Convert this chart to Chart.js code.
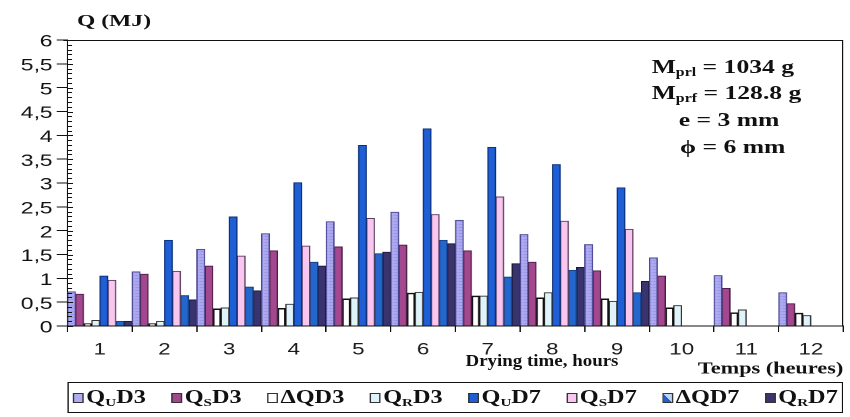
<!DOCTYPE html>
<html>
<head>
<meta charset="utf-8">
<script src="https://cdn.jsdelivr.net/npm/chart.js@4.4.1/dist/chart.umd.min.js"></script>
<style>
  html, body { margin: 0; padding: 0; background: #fff; overflow: hidden; }
  /* the figure is laid out narrow, then widened like the printed plate */
  #wrap { position: absolute; left: 0; top: 0; width: 630px; height: 417px;
          transform: scaleX(1.349206); transform-origin: 0 0; }
  #chart { position: absolute; left: 0; top: 0; width: 630px; height: 417px; }
  .txt { position: absolute; font-family: "Liberation Serif", "DejaVu Serif", serif; font-weight: bold;
         color: #111; line-height: 1; white-space: nowrap; }
  .txt sub, #legend sub { font-size: 0.62em; vertical-align: -0.25em; line-height: 0; }
  #legend { position: absolute; left: 50px; top: 382px; width: 575px; height: 31px; box-sizing: border-box;
            border: 1px solid #111; display: flex; justify-content: space-between; align-items: center;
            padding: 0 3px; font-family: "Liberation Serif", serif; font-weight: bold; font-size: 18px; color: #111; }
  .item { display: flex; align-items: center; white-space: nowrap; }
  .swatch { width: 8px; height: 10px; border: 1px solid #333; box-sizing: border-box; margin-right: 2px; }
</style>
</head>
<body>
<div id="wrap">
  <canvas id="chart" width="630" height="417"></canvas>
  <div class="txt" style="left:57px; top:12px; font-size:17.5px;">Q (MJ)</div>
  <div class="txt" style="left:483px; top:57px; font-size:19px;">M<sub>prl</sub> = 1034 g</div>
  <div class="txt" style="left:483px; top:83px; font-size:19px;">M<sub>prf</sub> = 128.8 g</div>
  <div class="txt" style="left:503px; top:110px; font-size:19px;">e = 3 mm</div>
  <div class="txt" style="left:504px; top:137px; font-size:19px;">ϕ = 6 mm</div>
  <div class="txt" style="left:345px; top:353px; font-size:16.5px; transform:scaleX(0.85); transform-origin:0 0;">Drying time, hours</div>
  <div id="legend"></div>
</div>
<script>
// drying time (hours)
const hours = ['1', '2', '3', '4', '5', '6', '7', '8', '9', '10', '11', '12'];

// energies in MJ, D3 = 3 mm slices, D7 = second run
const quD3  = [0.72, 1.14, 1.61, 1.94, 2.19, 2.39, 2.22, 1.92, 1.71, 1.43, 1.06, 0.70];
const qsD3  = [0.67, 1.09, 1.26, 1.58, 1.66, 1.70, 1.58, 1.34, 1.16, 1.05, 0.79, 0.47];
const dqD3  = [0.05, 0.05, 0.36, 0.37, 0.57, 0.69, 0.63, 0.59, 0.57, 0.38, 0.28, 0.27];
const qrD3  = [0.12, 0.10, 0.38, 0.46, 0.59, 0.71, 0.63, 0.70, 0.52, 0.43, 0.34, 0.22];
const quD7  = [1.05, 1.80, 2.29, 3.01, 3.79, 4.14, 3.75, 3.39, 2.90, 0, 0, 0];
const qsD7  = [0.96, 1.15, 1.47, 1.68, 2.26, 2.34, 2.71, 2.20, 2.03, 0, 0, 0];
const dqD7  = [0.10, 0.64, 0.82, 1.34, 1.52, 1.80, 1.03, 1.17, 0.70, 0, 0, 0];
const qrD7  = [0.10, 0.55, 0.74, 1.26, 1.55, 1.73, 1.31, 1.23, 0.94, 0, 0, 0];

const series     = [quD3, qsD3, dqD3, qrD3, quD7, qsD7, dqD7, qrD7];
const seriesKeys = ['QUD3', 'QSD3', 'ΔQD3', 'QRD3', 'QUD7', 'QSD7', 'ΔQD7', 'QRD7'];
const seriesHtml = ['Q<sub>U</sub>D3', 'Q<sub>S</sub>D3', 'ΔQD3', 'Q<sub>R</sub>D3',
                    'Q<sub>U</sub>D7', 'Q<sub>S</sub>D7', 'ΔQD7', 'Q<sub>R</sub>D7'];

// lavender bars carry a fine horizontal hatch
function hatch() {
  const c = document.createElement('canvas');
  c.width = 4; c.height = 3;
  const g = c.getContext('2d');
  g.fillStyle = '#b0acf3'; g.fillRect(0, 0, 4, 3);
  g.fillStyle = '#9590e2'; g.fillRect(0, 2, 3, 1);
  return g.createPattern(c, 'repeat');
}

const fills  = [hatch(), '#a3478f', '#ffffff', '#dff3fb', '#1e5fd6', '#f8c6ef', '#2366cc', '#3a346e'];
const edges  = ['#4a4790', '#4a1f45', '#111111', '#333333', '#0d2f78', '#5a4060', '#173f85', '#1c1838'];
const swatch = ['#b0acf3', '#a3478f', '#ffffff', '#dff3fb', '#1e5fd6', '#f8c6ef',
                'linear-gradient(to top right, #2060d0 50%, #bcd4f6 50%)', '#3a346e'];

// outer frame plus the small 0.1 ticks inside the value axis
const axisFrame = {
  id: 'axisFrame',
  afterDraw(chart) {
    const { ctx, chartArea: a, scales: { y } } = chart;
    ctx.save();
    ctx.strokeStyle = '#111';
    ctx.lineWidth = 1;
    ctx.beginPath();
    ctx.moveTo(a.left - 3, a.top + 0.5); ctx.lineTo(a.right, a.top + 0.5);
    ctx.moveTo(a.right - 0.5, a.top); ctx.lineTo(a.right - 0.5, a.bottom);
    for (let i = 0; i <= 60; i++) {
      const py = Math.round(y.getPixelForValue(i / 10)) + 0.5;
      ctx.moveTo(a.left, py);
      ctx.lineTo(a.left + (i % 5 === 0 ? 4 : 3.5), py);
    }
    ctx.stroke();
    ctx.restore();
  }
};

const chart = new Chart(document.getElementById('chart'), {
  type: 'bar',
  data: {
    labels: hours,
    datasets: series.map((s, i) => ({
      label: seriesKeys[i],
      data: s,
      backgroundColor: fills[i],
      borderColor: edges[i],
      borderWidth: i === 2 ? 1.5 : 1,
      categoryPercentage: 1,
      barPercentage: 1
    }))
  },
  options: {
    responsive: false,
    devicePixelRatio: 2,
    animation: false,
    layout: { padding: { top: 40, right: 5, left: 0, bottom: 0 } },
    plugins: { legend: { display: false }, tooltip: { enabled: false } },
    scales: {
      x: {
        grid: { drawOnChartArea: false, tickLength: 6, color: '#111' },
        border: { color: '#111', width: 1 },
        ticks: { color: '#1a1a1a', padding: 8, maxRotation: 0, autoSkip: false,
                 font: { family: 'Liberation Sans', size: 16.5 } },
        title: { display: true, text: 'Temps (heures)', align: 'end', color: '#111',
                 font: { family: 'Liberation Serif', weight: 'bold', size: 16.5 },
                 padding: { top: 0, bottom: 38 } },
        afterFit: (scale) => { scale.height = 91; }
      },
      y: {
        min: 0,
        max: 6,
        grid: { drawOnChartArea: false, tickLength: 8, color: '#111' },
        border: { color: '#111', width: 1 },
        ticks: { stepSize: 0.5, color: '#111', padding: 3, labelOffset: 2,
                 font: { family: 'Liberation Sans', size: 17 },
                 callback: (v) => String(v).replace('.', ',') },
        afterFit: (scale) => { scale.width = 50; }
      }
    }
  },
  plugins: [axisFrame]
});

// boxed legend under the axis, one entry per dataset
const legend = document.getElementById('legend');
chart.data.datasets.forEach((ds, i) => {
  const item = document.createElement('span');
  item.className = 'item';
  const box = document.createElement('span');
  box.className = 'swatch';
  box.style.background = swatch[i];
  item.appendChild(box);
  const label = document.createElement('span');
  label.innerHTML = seriesHtml[i];
  item.appendChild(label);
  legend.appendChild(item);
});
</script>
</body>
</html>
